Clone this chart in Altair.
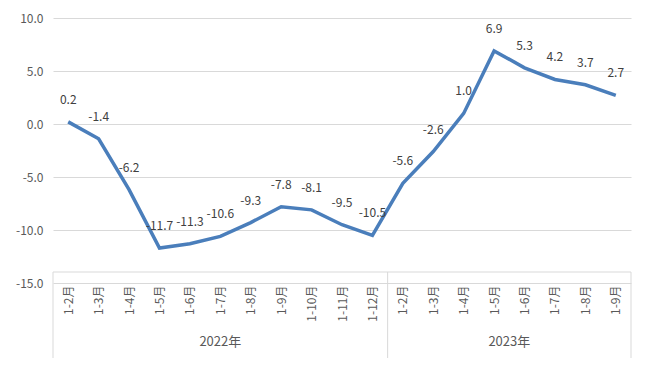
import json
import altair as alt
import pandas as pd

months_2022 = ["1-2月", "1-3月", "1-4月", "1-5月", "1-6月", "1-7月", "1-8月",
               "1-9月", "1-10月", "1-11月", "1-12月"]
months_2023 = ["1-2月", "1-3月", "1-4月", "1-5月", "1-6月", "1-7月", "1-8月", "1-9月"]
values_2022 = [0.2, -1.4, -6.2, -11.7, -11.3, -10.6, -9.3, -7.8, -8.1, -9.5, -10.5]
values_2023 = [-5.6, -2.6, 1.0, 6.9, 5.3, 4.2, 3.7, 2.7]
years = ["2022年", "2023年"]
y_ticks = [-15, -10, -5, 0, 5, 10]

labels = months_2022 + months_2023
vals = values_2022 + values_2023
df = pd.DataFrame({"idx": list(range(len(labels))), "label": labels, "value": vals})

W, H = 578, 265
n = len(labels)
step = W / n
FONT = "Noto Sans CJK SC"
GRID = "#d9d9d9"
FMT = "replace(format(datum.value, '.1f'), '\u2212', '-')"

label_expr = json.dumps(labels, ensure_ascii=False) + "[datum.value]"

x = alt.X("idx:O", scale=alt.Scale(type="point", padding=0.5),
          axis=alt.Axis(labelExpr=label_expr, labelAngle=270, ticks=False, domain=False,
                        grid=False, title=None, labelPadding=2, labelOverlap=False,
                        labelFont=FONT, labelFontSize=12, labelColor="#595959"))
y = alt.Y("value:Q", scale=alt.Scale(domain=[-15, 10]),
          axis=alt.Axis(values=y_ticks, labelExpr=FMT, grid=True, gridColor=GRID,
                        domain=False, ticks=False, labelPadding=10, title=None,
                        labelFont=FONT, labelFontSize=12, labelColor="#595959"))

base = alt.Chart(df)
line = base.mark_line(color="#4a7ebb", strokeWidth=3.5).encode(x=x, y=y)
text = base.transform_calculate(lbl=FMT).mark_text(
    dy=-22, fontSize=12, font=FONT, color="#404040").encode(x=x, y=y, text="lbl:N")

box_top = H - 11
box_bottom = H + 75
layers = [line, text]
dummy = pd.DataFrame({"a": [0]})
layers.append(alt.Chart(dummy).mark_rule(color=GRID, strokeWidth=1).encode(
    x=alt.value(0), x2=alt.value(W), y=alt.value(box_top)))
bounds = [0, len(months_2022) * step, W]
for bx in bounds:
    layers.append(alt.Chart(dummy).mark_rule(color=GRID, strokeWidth=1).encode(
        x=alt.value(bx), y=alt.value(box_top), y2=alt.value(box_bottom)))

centers = [len(months_2022) * step / 2, len(months_2022) * step + len(months_2023) * step / 2]
for yr, cx in zip(years, centers):
    layers.append(alt.Chart(pd.DataFrame({"t": [yr]})).mark_text(
        fontSize=13, font=FONT, color="#595959").encode(
        x=alt.value(cx), y=alt.value(H + 59), text="t:N"))

chart = alt.layer(*layers).properties(
    width=W, height=H,
    autosize=alt.AutoSizeParams(type="none"),
    padding={"left": 45, "top": 10, "right": 3, "bottom": 75},
).configure_view(stroke=None)

chart.save("out.html", embed_options={"renderer": "svg", "actions": False})
